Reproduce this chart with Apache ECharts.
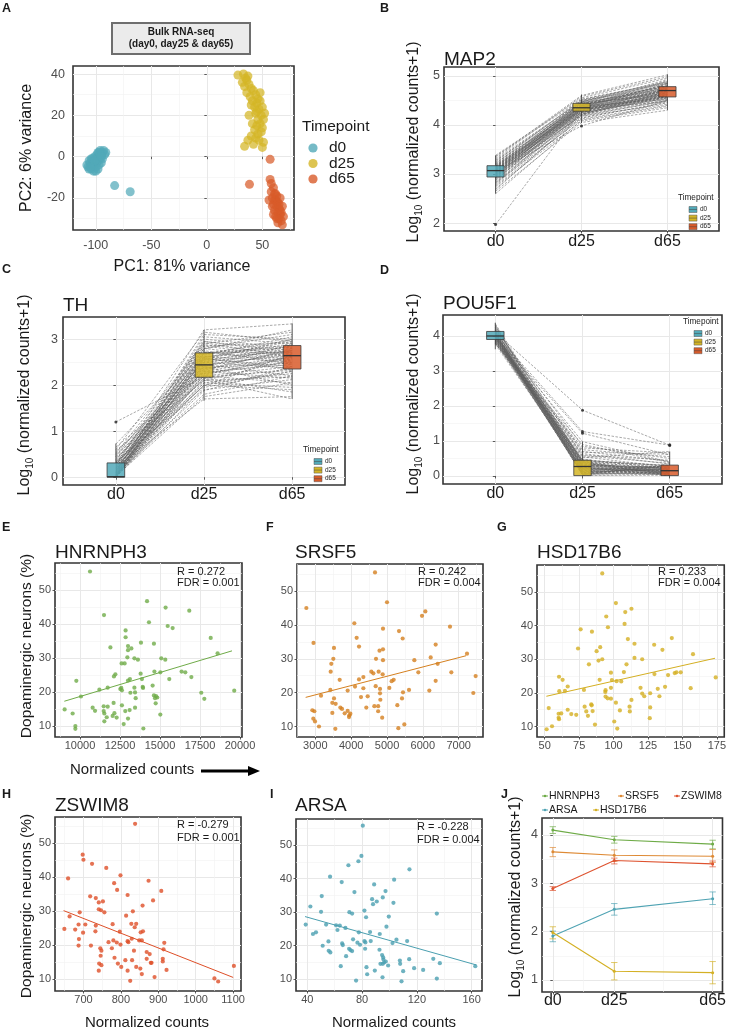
<!DOCTYPE html>
<html><head><meta charset="utf-8">
<script src="https://cdn.jsdelivr.net/npm/echarts@6/dist/echarts.min.js"></script>
<style>html,body{margin:0;padding:0;background:#fff}#c{width:729px;height:1030px}</style>
</head><body><div id="c"></div>
<script>
const FONT = "'Liberation Sans', Arial, Helvetica, sans-serif";
const TIMEPOINTS = ['d0', 'd25', 'd65'];
const TIME_COLORS = ['#52A9B8', '#D4B526', '#D85B2A'];

// ---------- Panel A : PCA ----------
const pcaD0 = [[-108,-4],[-107,-5],[-106,-2],[-106,-6],[-105,-3],[-104,-1],[-104,-6],[-103,-4],[-102,-2],[-102,-7],[-101,0],[-101,-4],[-100,-1],[-100,-5],[-99,1],[-99,-3],[-98,2],[-98,-2],[-97,0],[-97,-4],[-96,3],[-96,-1],[-95,1],[-95,-3],[-94,2],[-94,-1],[-93,3],[-92,1],[-91,2],[-103,-1],[-100,-7],[-98,-6],[-99,-1],[-97,2],[-101,-2],[-96,1],[-105,-5],[-95,0],[-83,-14],[-69,-17]];
const pcaD25 = [[28,39.5],[33,40],[35,38],[37,39],[32,36],[34,34],[38,35],[40,33],[36,31],[42,32],[39,29],[44,30],[46,28],[41,27],[45,26],[48,27],[43,24],[47,23],[50,24],[44,21],[49,20],[52,21],[46,18],[51,18],[38,20],[41,16],[45,15],[48,16],[50,14],[43,13],[46,11],[49,12],[40,10],[44,9],[47,8],[51,7],[37,8],[34,5],[50,4.5],[42,6],[45,22],[40,25],[36,37],[48,31]];
const pcaD65 = [[57,-1.3],[38.4,-13.4],[57,-11],[58,-13],[60,-15],[58,-17],[61,-18],[63,-19],[59,-20],[62,-21],[64,-22],[60,-23],[63,-24],[65,-25],[61,-26],[64,-27],[66,-28],[62,-29],[65,-30],[67,-31],[64,-32],[68,-33],[66,-26],[63,-22],[61,-21],[65,-23],[67,-27],[59,-24],[62,-18],[66,-20],[69,-29],[63,-30],[60,-28],[56,-21],[68,-24]];

// ---------- Panels B-D : per-sample trajectories [d0, d25, d65] ----------
const map2Samples = [[3.38,4.55,4.95],[3.35,4.60,5.02],[3.30,4.48,4.85],[3.27,4.42,4.80],[3.25,4.50,4.78],[3.22,4.38,4.90],[3.20,4.45,4.72],[3.18,4.40,4.76],[3.17,4.35,4.68],[3.16,4.47,4.82],[3.15,4.32,4.70],[3.14,4.43,4.65],[3.13,4.38,4.78],[3.12,4.30,4.60],[3.11,4.41,4.74],[3.10,4.36,4.70],[3.09,4.34,4.66],[3.08,4.45,4.75],[3.08,4.28,4.58],[3.07,4.37,4.72],[3.06,4.33,4.62],[3.05,4.40,4.69],[3.04,4.26,4.55],[3.03,4.35,4.71],[3.02,4.31,4.64],[3.01,4.42,4.80],[3.00,4.29,4.59],[2.99,4.36,4.67],[2.98,4.24,4.52],[2.97,4.33,4.63],[2.96,4.39,4.73],[2.95,4.27,4.57],[2.94,4.20,4.48],[2.92,4.32,4.61],[2.90,4.15,4.45],[2.88,4.30,4.60],[2.85,4.22,4.50],[2.82,4.12,4.40],[2.78,4.25,4.55],[2.74,4.08,4.35],[2.70,4.18,4.42],[2.65,4.05,4.30],[2.60,4.10,4.38],[1.97,4.30,4.58],[3.05,3.98,4.50],
  [3.36,4.52,4.88],[3.32,4.58,4.98],[3.28,4.46,4.92],[3.24,4.36,4.84],[3.21,4.52,4.86],[3.19,4.30,4.66],[3.16,4.28,4.74],[3.14,4.50,4.88],[3.12,4.44,4.62],[3.10,4.25,4.54],[3.09,4.48,4.85],[3.07,4.22,4.64],[3.06,4.46,4.79],[3.04,4.38,4.52],[3.02,4.18,4.50],[3.00,4.44,4.76],[2.98,4.34,4.84],[2.96,4.21,4.68],[2.93,4.40,4.70],[2.91,4.26,4.66],[2.87,4.35,4.56],[2.83,4.20,4.62],[2.80,4.32,4.48],[2.76,4.14,4.46],[2.68,4.22,4.58]];
const map2Box = [[0,2.60,2.94,3.07,3.17,3.38],[1,4.04,4.28,4.35,4.44,4.62],[2,4.30,4.57,4.70,4.78,5.03]];
const map2Out = [[0,1.97],[1,3.98]];

const thSamples = [[0.00,2.20,2.40],[0.00,2.45,2.65],[0.00,2.70,2.85],[0.00,1.95,2.30],[0.00,2.60,2.95],[0.02,2.30,2.15],[0.02,2.85,2.60],[0.03,2.10,2.55],[0.04,2.55,2.75],[0.05,3.00,2.80],[0.05,2.40,2.00],[0.06,1.80,2.20],[0.08,2.65,3.05],[0.08,2.25,2.50],[0.10,2.50,2.70],[0.10,3.10,3.00],[0.12,2.00,1.90],[0.12,2.75,2.45],[0.14,2.35,2.62],[0.15,2.90,3.15],[0.16,2.15,2.35],[0.18,2.60,2.90],[0.20,1.70,1.75],[0.20,2.48,2.80],[0.22,2.80,2.55],[0.24,2.05,2.25],[0.25,3.20,3.33],[0.26,2.42,2.68],[0.28,2.58,2.40],[0.30,2.20,2.05],[0.30,2.95,2.75],[0.32,2.68,2.98],[0.35,1.90,2.12],[0.38,2.52,2.85],[0.40,2.30,2.60],[0.42,2.12,1.70],[0.45,2.88,2.66],[0.50,2.62,2.50],[0.55,2.40,2.88],[0.60,3.15,2.95],[0.65,2.28,2.45],[0.72,2.70,2.72],[1.20,2.18,2.32],
  [0.00,2.35,2.75],[0.00,2.80,3.10],[0.00,2.05,1.95],[0.01,2.58,2.35],[0.02,1.75,2.05],[0.03,2.95,2.70],[0.04,2.22,2.62],[0.06,2.68,2.82],[0.07,1.88,2.40],[0.09,2.45,2.20],[0.11,3.05,2.90],[0.13,2.32,2.78],[0.15,2.72,2.52],[0.17,2.00,2.30],[0.19,2.55,3.00],[0.21,2.85,2.92],[0.23,2.15,1.85],[0.27,2.62,2.72],[0.29,2.38,2.48],[0.33,1.98,2.68],[0.36,2.78,3.20],[0.44,2.50,2.36],[0.48,2.25,2.58],[0.52,2.92,2.62],[0.58,2.10,2.18]];
const thBox = [[0,0.00,0.00,0.01,0.31,0.73],[1,1.66,2.17,2.44,2.70,3.20],[2,1.70,2.35,2.64,2.86,3.34]];
const thOut = [[0,1.20]];

const pou5f1Samples = [[4.35,0.40,0.20],[4.30,0.10,0.05],[4.25,0.30,0.25],[4.20,0.05,0.10],[4.15,0.45,0.30],[4.12,0.20,0.15],[4.10,0.02,0.02],[4.08,0.35,0.18],[4.07,0.15,0.08],[4.06,0.28,0.22],[4.05,0.05,0.30],[4.04,0.40,0.05],[4.03,0.25,0.12],[4.02,0.10,0.25],[4.01,0.32,0.08],[4.00,0.18,0.15],[4.00,0.02,0.05],[3.99,0.45,0.28],[3.98,0.27,0.10],[3.97,0.12,0.20],[3.96,0.38,0.02],[3.95,0.22,0.18],[3.94,0.05,0.12],[3.93,0.30,0.25],[3.92,0.60,0.45],[3.90,0.15,0.06],[3.88,0.42,0.30],[3.86,0.08,0.15],[3.84,0.75,0.55],[3.82,0.33,0.22],[3.80,0.52,0.70],[3.78,0.90,0.38],[3.76,0.20,0.08],[4.10,1.88,0.88],[4.05,1.27,0.88],[3.98,1.22,0.60],[4.02,0.98,0.40],[4.00,0.68,0.62],[3.95,0.55,0.25],[4.18,0.85,0.50],
  [4.32,0.22,0.12],[4.28,0.36,0.05],[4.22,0.12,0.20],[4.16,0.28,0.10],[4.13,0.06,0.28],[4.11,0.42,0.18],[4.09,0.18,0.02],[4.07,0.30,0.14],[4.05,0.08,0.06],[4.03,0.44,0.24],[4.01,0.14,0.30],[3.99,0.24,0.04],[3.97,0.34,0.16],[3.96,0.04,0.22],[3.94,0.40,0.10],[3.92,0.16,0.26],[3.90,0.26,0.02],[3.88,0.10,0.18],[3.85,0.38,0.12],[3.83,0.64,0.34],[3.81,0.20,0.28],[3.79,0.48,0.20],[4.14,0.70,0.42],[4.24,0.58,0.36],[3.87,0.80,0.66]];
const pou5f1Box = [[0,3.62,3.90,4.00,4.13,4.38],[1,0.00,0.01,0.27,0.45,0.98],[2,0.00,0.01,0.15,0.31,0.70]];
const pou5f1Out = [[1,1.88],[1,1.27],[1,1.22],[2,0.89],[2,0.87]];

// ---------- Panels E-I : expression vs dopaminergic neurons (%) ----------
const hnrnph3Pts = [[10625,55.5],[11500,42.7],[14190,46.8],[15350,44.9],[16830,44.0],[14310,40.6],[15480,39.5],[15790,38.9],[12850,38.2],[12850,36.2],[18170,36.0],[13810,34.6],[14620,34.3],[13000,33.6],[11900,33.2],[13210,32.9],[13000,32.4],[18600,31.5],[12960,30.3],[13400,30.0],[13620,29.6],[15080,30.0],[15330,29.6],[12600,28.5],[12790,28.5],[13790,25.5],[12210,25.3],[12120,24.7],[9770,23.4],[14650,26.1],[15020,25.9],[16350,26.1],[16580,25.9],[16960,24.5],[15580,23.9],[13870,23.9],[13000,23.5],[13120,23.9],[10060,18.8],[11210,20.8],[11730,21.4],[12520,21.0],[12620,20.6],[12580,21.3],[13400,21.4],[13920,21.6],[13940,21.3],[14540,22.0],[13150,19.9],[13440,20.0],[13480,18.3],[14620,19.1],[14750,18.9],[14830,18.5],[14690,18.3],[14730,16.8],[17580,19.9],[17770,18.1],[19640,20.5],[9040,15.0],[9540,13.8],[9710,10.1],[9710,9.3],[10790,15.5],[10940,14.6],[11480,15.9],[11480,14.5],[11520,13.8],[11520,11.5],[11730,15.8],[11670,12.7],[12040,13.1],[12150,13.9],[12100,16.9],[12290,12.6],[12620,16.2],[12730,10.7],[12830,14.5],[13000,12.3],[13100,14.8],[13440,15.5],[13960,9.4],[15020,13.5]];
const hnrnph3Fit = [[9020,17.4],[19500,32.2]];
const srsf5Pts = [[2749,45.0],[4665,55.5],[5000,46.7],[4088,40.5],[5977,42.7],[6070,44.0],[6758,39.5],[4888,38.9],[4153,36.2],[5335,38.2],[5437,36.0],[2949,34.7],[4219,33.6],[3520,33.2],[4791,32.4],[4888,32.8],[6358,34.2],[3502,30.0],[4693,30.0],[4888,29.6],[5763,29.6],[6219,30.4],[7233,31.5],[3446,28.5],[6414,28.5],[3428,26.2],[4563,26.2],[4619,25.7],[4767,26.2],[4879,25.4],[5874,26.0],[6795,26.0],[7474,24.9],[3679,23.8],[4219,23.9],[4340,24.6],[5130,23.4],[5186,23.8],[6358,23.5],[3419,20.8],[3902,20.6],[4107,21.8],[4340,21.3],[4684,21.9],[4805,21.1],[5065,21.4],[5614,20.8],[6181,20.6],[7409,19.9],[3158,19.1],[3521,18.3],[4274,18.7],[4460,18.9],[4805,19.8],[4814,17.9],[5447,20.1],[5419,18.3],[3474,17.0],[3567,16.7],[3698,15.6],[3744,15.2],[3819,13.9],[3902,14.6],[3977,13.8],[3940,12.8],[3949,13.3],[4647,16.0],[4753,16.0],[4753,14.5],[4423,15.6],[4865,12.6],[2916,14.8],[2972,14.5],[2944,12.3],[2991,11.5],[3102,10.0],[3558,9.3],[3474,14.0],[5316,9.5],[5484,10.6],[5288,16.3]];
const srsf5Fit = [[2730,18.6],[7205,30.9]];
const hsd17b6Pts = [[91.8,55.5],[101.7,46.7],[113.0,45.0],[108.5,44.0],[94.7,42.7],[108.0,40.5],[76.1,38.9],[95.9,39.5],[84.3,38.2],[110.4,36.0],[142.3,36.3],[115.2,34.6],[129.5,34.3],[74.2,33.2],[90.3,33.6],[135.5,32.8],[87.7,32.4],[157.7,31.5],[89.1,29.6],[91.8,30.0],[115.2,30.4],[120.8,30.0],[82.1,28.5],[109.4,28.5],[60.4,24.8],[63.0,23.9],[66.7,21.9],[60.6,20.5],[64.7,20.6],[78.5,20.9],[89.9,23.9],[98.1,26.0],[98.8,23.8],[102.2,23.5],[105.6,23.4],[107.5,26.2],[129.7,25.6],[139.6,25.3],[144.4,25.9],[145.7,26.1],[148.8,26.1],[174.2,24.6],[94.0,20.3],[94.2,20.8],[98.1,21.5],[119.6,21.5],[120.8,19.8],[122.3,19.0],[132.1,21.2],[137.4,21.8],[156.0,21.4],[94.2,18.9],[95.7,18.4],[98.1,18.3],[101.7,17.1],[113.0,17.9],[126.6,19.9],[133.3,19.0],[52.9,15.5],[60.1,13.8],[62.0,13.9],[60.1,12.6],[60.4,12.2],[66.7,15.0],[69.3,13.7],[72.9,13.5],[79.0,15.9],[80.2,14.5],[81.4,13.2],[83.8,16.6],[84.1,16.3],[84.8,14.6],[86.5,10.6],[104.6,14.8],[111.6,15.9],[111.8,14.5],[126.6,15.7],[126.3,12.5],[100.5,11.5],[102.7,9.4],[51.4,9.2],[55.3,10.1]];
const hsd17b6Fit = [[51.2,19.0],[173.7,30.3]];
const zswim8Pts = [[838,55.8],[698,46.7],[700,45.2],[723,44.0],[761,42.8],[659,39.7],[799,40.6],[874,39.0],[782,38.3],[790,36.3],[908,36.0],[718,34.4],[818,34.8],[733,33.9],[741,32.6],[752,32.9],[886,33.2],[858,31.7],[741,30.6],[747,30.3],[756,29.7],[832,30.0],[690,29.7],[663,28.5],[814,28.7],[778,26.2],[687,26.1],[705,26.1],[828,26.3],[841,26.3],[837,25.3],[733,25.8],[649,24.8],[678,24.6],[732,24.1],[699,23.7],[797,24.0],[859,24.1],[853,23.8],[688,21.8],[829,21.9],[767,20.9],[780,21.4],[789,20.8],[818,21.2],[820,20.9],[849,21.4],[856,21.4],[916,20.7],[687,19.9],[720,19.9],[799,20.2],[745,19.1],[748,18.4],[776,19.1],[835,18.4],[869,18.0],[914,18.8],[746,16.9],[783,16.3],[869,16.0],[877,17.4],[912,16.0],[912,15.2],[812,15.6],[830,15.6],[742,14.6],[748,14.1],[792,14.6],[801,13.6],[841,13.6],[852,13.1],[880,14.8],[882,14.8],[741,12.5],[818,12.5],[856,11.5],[922,12.7],[890,10.6],[825,9.5],[1050,10.2],[1060,9.3],[1102,13.9]];
const zswim8Fit = [[647,30.2],[1100,10.5]];
const arsaPts = [[80.5,55.8],[79.5,46.8],[77.3,45.2],[70.0,44.0],[114.6,42.8],[56.6,40.6],[103.4,39.7],[65.1,39.0],[88.8,38.3],[74.4,36.0],[97.1,36.3],[50.5,34.8],[95.1,34.4],[87.3,33.9],[90.7,33.2],[88.0,32.4],[102.9,32.8],[42.2,31.7],[81.7,30.5],[50.0,30.1],[70.7,30.0],[72.7,29.6],[134.6,29.6],[82.9,28.5],[99.5,28.7],[38.8,26.3],[53.7,26.3],[61.0,26.1],[63.7,26.0],[62.0,24.7],[67.8,25.3],[97.8,25.7],[85.8,24.1],[77.6,24.0],[92.9,23.5],[44.1,23.5],[46.3,24.0],[105.1,21.8],[112.9,21.4],[102.2,20.8],[73.4,21.9],[55.4,21.3],[81.7,21.4],[82.4,21.0],[86.3,21.4],[76.6,20.9],[65.4,20.7],[65.9,20.2],[78.5,20.3],[51.2,20.0],[70.5,19.1],[71.5,18.7],[72.7,18.4],[82.2,19.1],[92.7,18.8],[55.6,18.5],[56.8,18.0],[68.3,16.9],[94.6,17.2],[95.4,16.5],[95.6,15.9],[96.1,15.0],[93.4,14.6],[95.1,14.6],[97.3,15.3],[99.0,14.1],[107.6,15.6],[107.8,14.6],[114.4,16.0],[132.0,16.1],[136.8,14.8],[118.0,13.3],[124.6,12.8],[64.4,13.9],[83.2,13.6],[83.7,11.5],[89.3,12.6],[110.0,12.4],[94.9,10.6],[75.6,9.6],[108.8,9.4],[134.6,10.2],[162.7,13.9]];
const arsaFit = [[38.3,28.7],[163.2,14.3]];

// ---------- Panel J ----------
const jGenes = ['HNRNPH3', 'SRSF5', 'ZSWIM8', 'ARSA', 'HSD17B6'];
const jColors = ['#6EAB47', '#DE8A35', '#DE5330', '#4FA3B3', '#D4B024'];
const jDays = [0, 25, 65];
const jMeans = [[4.10,3.90,3.81],[3.65,3.58,3.56],[2.89,3.47,3.40],[1.91,2.46,2.68],[1.98,1.18,1.15]];
const jLows  = [[4.03,3.83,3.71],[3.55,3.45,3.43],[2.85,3.40,3.34],[1.79,2.34,2.56],[1.85,1.00,0.92]];
const jHighs = [[4.17,3.97,3.89],[3.74,3.69,3.70],[2.93,3.52,3.46],[2.01,2.58,2.82],[2.10,1.36,1.38]];

// ====================== build ======================
const grids = [
  {left:73, top:66, width:221, height:164},
  {left:444, top:67, width:275, height:164},
  {left:63, top:317, width:282, height:168},
  {left:443, top:315, width:279, height:169},
  {left:55, top:563, width:187, height:174},
  {left:297, top:564, width:186, height:173},
  {left:537, top:565, width:188, height:172},
  {left:55, top:817, width:186, height:174},
  {left:296, top:819, width:186, height:172},
  {left:542, top:818, width:185, height:174}
].map(g => Object.assign(g, {show:true, borderColor:'#333', borderWidth:1.6, backgroundColor:'#fff', containLabel:false}));

const xAxes = [], yAxes = [];
function addAxis(list, gi, a, isX) {
  list.push({
    type:'value', gridIndex:gi, min:a.min, max:a.max, position: isX ? 'bottom' : 'left',
    axisLine:{show:false},
    axisTick:{show:true, length:2.5, customValues:a.major, lineStyle:{color:'#333', width:0.8}},
    axisLabel:{customValues:a.major, fontSize:a.fs, color:a.color || '#4D4D4D', margin:a.margin, fontFamily:FONT,
               formatter:a.fmt || (v => String(v)), showMinLabel:true, showMaxLabel:true},
    splitLine:{show:true, lineStyle:{color:'#E8E8E8', width:1}}
  });
  const idx = list.length - 1;
  if (a.minor && a.minor.length) {
    list.push({
      type:'value', gridIndex:gi, min:a.min, max:a.max, position: isX ? 'top' : 'right',
      axisLine:{show:false}, axisTick:{show:false, customValues:a.minor}, axisLabel:{show:false},
      splitLine:{show:true, lineStyle:{color:'#F1F1F1', width:0.6}}
    });
  }
  return idx;
}
const tpFmt = v => TIMEPOINTS[Math.round(v)] || '';
const dayFmt = v => TIMEPOINTS[jDays.indexOf(v)] || '';

const ax = [];
// A
ax.push([addAxis(xAxes,0,{min:-120.5,max:78.5,major:[-100,-50,0,50],minor:[-75,-25,25,75],fs:12.5,margin:9},true),
         addAxis(yAxes,0,{min:-35.5,max:43.9,major:[-20,0,20,40],minor:[-30,-10,10,30],fs:12.5,margin:8},false)]);
// B
ax.push([addAxis(xAxes,1,{min:-0.6,max:2.6,major:[0,1,2],fs:16,color:'#1a1a1a',margin:3,fmt:tpFmt},true),
         addAxis(yAxes,1,{min:1.84,max:5.18,major:[2,3,4,5],minor:[2.5,3.5,4.5],fs:12.5,margin:4},false)]);
// C
ax.push([addAxis(xAxes,2,{min:-0.6,max:2.6,major:[0,1,2],fs:16,color:'#1a1a1a',margin:2,fmt:tpFmt},true),
         addAxis(yAxes,2,{min:-0.17,max:3.48,major:[0,1,2,3],minor:[0.5,1.5,2.5],fs:12.5,margin:5},false)]);
// D
ax.push([addAxis(xAxes,3,{min:-0.6,max:2.6,major:[0,1,2],fs:16,color:'#1a1a1a',margin:2,fmt:tpFmt},true),
         addAxis(yAxes,3,{min:-0.23,max:4.6,major:[0,1,2,3,4],minor:[0.5,1.5,2.5,3.5],fs:12.5,margin:3},false)]);
const yScatter = {min:6.9,max:58.0,major:[10,20,30,40,50],minor:[15,25,35,45,55],fs:11,margin:4};
// E
ax.push([addAxis(xAxes,4,{min:8437,max:20125,major:[10000,12500,15000,17500,20000],minor:[8750,11250,13750,16250,18750],fs:11,margin:3},true),
         addAxis(yAxes,4,yScatter,false)]);
// F
ax.push([addAxis(xAxes,5,{min:2488,max:7679,major:[3000,4000,5000,6000,7000],minor:[2500,3500,4500,5500,6500,7500],fs:11,margin:3},true),
         addAxis(yAxes,5,yScatter,false)]);
// G
ax.push([addAxis(xAxes,6,{min:44.4,max:180.4,major:[50,75,100,125,150,175],minor:[62.5,87.5,112.5,137.5,162.5],fs:11,margin:3},true),
         addAxis(yAxes,6,yScatter,false)]);
const yScatter2 = {min:6.5,max:57.8,major:[10,20,30,40,50],minor:[15,25,35,45,55],fs:11,margin:4};
// H
ax.push([addAxis(xAxes,7,{min:624,max:1121,major:[700,800,900,1000,1100],minor:[650,750,850,950,1050],fs:11,margin:3},true),
         addAxis(yAxes,7,yScatter2,false)]);
// I
ax.push([addAxis(xAxes,8,{min:31.7,max:167.6,major:[40,80,120,160],minor:[60,100,140],fs:11,margin:3},true),
         addAxis(yAxes,8,yScatter2,false)]);
// J
ax.push([addAxis(xAxes,9,{min:-4.4,max:69,major:[0,25,65],minor:[12.5,45],fs:16,color:'#1a1a1a',margin:1,fmt:dayFmt},true),
         addAxis(yAxes,9,{min:0.75,max:4.35,major:[1,2,3,4],minor:[1.5,2.5,3.5],fs:12.5,margin:4},false)]);

const series = [];
function on(p) { return {xAxisIndex: ax[p][0], yAxisIndex: ax[p][1]}; }

// A scatter
[pcaD0, pcaD25, pcaD65].forEach((pts, k) => {
  series.push(Object.assign({type:'scatter', data:pts, symbolSize:9,
    itemStyle:{color:TIME_COLORS[k], opacity:0.72}, z:3}, on(0)));
});

// B-D
function boxRender(params, api) {
  const x = api.value(0);
  const pMin = api.coord([x, api.value(1)]), pQ1 = api.coord([x, api.value(2)]);
  const pMd = api.coord([x, api.value(3)]), pQ3 = api.coord([x, api.value(4)]), pMax = api.coord([x, api.value(5)]);
  const hw = api.size([0.1, 0])[0];
  const c = TIME_COLORS[Math.round(x)];
  const st = {stroke:'#333', lineWidth:0.8};
  return {type:'group', children:[
    {type:'line', shape:{x1:pMin[0], y1:pMin[1], x2:pQ1[0], y2:pQ1[1]}, style:st},
    {type:'line', shape:{x1:pQ3[0], y1:pQ3[1], x2:pMax[0], y2:pMax[1]}, style:st},
    {type:'rect', shape:{x:pQ1[0]-hw, y:pQ3[1], width:2*hw, height:Math.max(pQ1[1]-pQ3[1], 0.8)},
     style:{fill:c, fillOpacity:0.85, stroke:'#3a3a3a', lineWidth:0.8}},
    {type:'line', shape:{x1:pMd[0]-hw, y1:pMd[1], x2:pMd[0]+hw, y2:pMd[1]}, style:{stroke:'#333', lineWidth:1.3}}
  ]};
}
[[map2Samples, map2Box, map2Out], [thSamples, thBox, thOut], [pou5f1Samples, pou5f1Box, pou5f1Out]].forEach((set, k) => {
  const p = k + 1;
  series.push(Object.assign({type:'lines', coordinateSystem:'cartesian2d', polyline:true,
    data: set[0].map(s => ({coords: s.map((v, i) => [i, v])})),
    lineStyle:{color:'#5e5e5e', width:0.6, type:[2.5,1.5], opacity:0.9}, z:2, silent:true}, on(p)));
  series.push(Object.assign({type:'custom', renderItem:boxRender, data:set[1],
    encode:{x:0, y:[1,2,3,4,5]}, z:4}, on(p)));
  series.push(Object.assign({type:'scatter', data:set[2], symbolSize:3,
    itemStyle:{color:'#222'}, z:5}, on(p)));
});

// E-I
const scatterSets = [[hnrnph3Pts, hnrnph3Fit, '#6FAB48'], [srsf5Pts, srsf5Fit, '#D5801F'], [hsd17b6Pts, hsd17b6Fit, '#D4AF22'],
                     [zswim8Pts, zswim8Fit, '#DE4F28'], [arsaPts, arsaFit, '#4A9FB0']];
scatterSets.forEach((set, k) => {
  const p = k + 4;
  series.push(Object.assign({type:'scatter', data:set[0], symbolSize:4.2, itemStyle:{color:set[2]}, z:3}, on(p)));
  series.push(Object.assign({type:'line', data:set[1], symbol:'none', lineStyle:{color:set[2], width:1}, z:4}, on(p)));
});

// J
function errRender(color) {
  return function (params, api) {
    const x = api.value(0);
    const a = api.coord([x, api.value(1)]), b = api.coord([x, api.value(2)]);
    const w = 3.2, st = {stroke:color, lineWidth:0.8, opacity:0.85};
    return {type:'group', children:[
      {type:'line', shape:{x1:a[0], y1:a[1], x2:b[0], y2:b[1]}, style:st},
      {type:'line', shape:{x1:a[0]-w, y1:a[1], x2:a[0]+w, y2:a[1]}, style:st},
      {type:'line', shape:{x1:b[0]-w, y1:b[1], x2:b[0]+w, y2:b[1]}, style:st}
    ]};
  };
}
jGenes.forEach((g, k) => {
  series.push(Object.assign({type:'custom', renderItem:errRender(jColors[k]),
    data: jDays.map((d, i) => [d, jLows[k][i], jHighs[k][i]]), encode:{x:0, y:[1,2]}, z:3}, on(9)));
  series.push(Object.assign({type:'line', name:g, data: jDays.map((d, i) => [d, jMeans[k][i]]),
    symbol:'circle', symbolSize:3, lineStyle:{color:jColors[k], width:1.1}, itemStyle:{color:jColors[k]}, z:4}, on(9)));
});

// ---------- text / annotations ----------
const G = [];
function T(x, y, text, size, opts) {
  opts = opts || {};
  G.push({type:'text', x, y, rotation: opts.rot || 0, z:100,
    style: Object.assign({text, fill: opts.fill || '#1a1a1a',
      font: (opts.bold ? 'bold ' : '') + size + 'px ' + FONT,
      textAlign: opts.align || 'left', textVerticalAlign: 'middle'}, opts.style || {})});
}
// panel letters
[['A',2,8.5],['B',380,8.5],['C',2,270],['D',380,271],['E',2,528],['F',266,528],['G',497,528],['H',2,795],['I',270,795],['J',501,795]]
  .forEach(l => T(l[1], l[2], l[0], 12.5, {bold:true}));

// Panel A box title + labels + legend
G.push({type:'rect', z:99, shape:{x:112, y:23, width:138, height:31}, style:{fill:'#EBEBEB', stroke:'#6E6E6E', lineWidth:2}});
T(181, 32.5, 'Bulk RNA-seq', 10, {bold:true, align:'center'});
T(181, 44.5, '(day0, day25 & day65)', 10, {bold:true, align:'center'});
T(27, 148, 'PC2: 6% variance', 16, {rot:Math.PI/2, align:'center'});
T(182, 267, 'PC1: 81% variance', 16, {align:'center'});
T(302, 127, 'Timepoint', 15.5);
TIMEPOINTS.forEach((t, i) => {
  G.push({type:'circle', z:100, shape:{cx:313, cy:148 + i*15.5, r:4.6}, style:{fill:TIME_COLORS[i], opacity:0.8}});
  T(329, 148 + i*15.5, t, 15.5);
});

// Log10 axis labels
function logLabel(x, y) {
  G.push({type:'text', x, y, rotation:Math.PI/2, z:100, style:{
    text:'{a|Log}{s|10}{a| (normalized counts+1)}', textAlign:'center', textVerticalAlign:'middle',
    rich:{a:{fontSize:16, fontFamily:FONT, fill:'#1a1a1a', lineHeight:20},
          s:{fontSize:10, fontFamily:FONT, fill:'#1a1a1a', verticalAlign:'bottom', lineHeight:11}}}});
}
logLabel(414, 142); logLabel(25, 395); logLabel(414, 394); logLabel(516, 897);

// gene titles
T(444, 60, 'MAP2', 19); T(63, 305.5, 'TH', 19); T(443, 303.5, 'POU5F1', 19);
T(55, 553, 'HNRNPH3', 19); T(295, 553, 'SRSF5', 19); T(537, 553, 'HSD17B6', 19);
T(55, 805.5, 'ZSWIM8', 19); T(295, 806, 'ARSA', 19);

// Timepoint mini legends
function miniLegend(x, y) {
  T(x, y, 'Timepoint', 8.2, {fill:'#222'});
  TIMEPOINTS.forEach((t, i) => {
    const cy = y + 11.5 + i * 8.6;
    G.push({type:'rect', z:100, shape:{x:x + 11, y:cy - 3, width:8, height:6}, style:{fill:TIME_COLORS[i], stroke:'#555', lineWidth:0.5}});
    G.push({type:'line', z:101, shape:{x1:x + 11, y1:cy, x2:x + 19, y2:cy}, style:{stroke:'#444', lineWidth:0.5}});
    T(x + 22, cy, t, 6.5, {fill:'#222'});
  });
}
miniLegend(678, 198); miniLegend(303, 450); miniLegend(683, 322);

// stats
[[177,572,583,'0.272','0.001'],[418,572,583,'0.242','0.004'],[658,572,583,'0.233','0.004'],
 [177,825,838,'-0.279','0.001'],[417,827,840,'-0.228','0.004']].forEach(s => {
  T(s[0], s[1], 'R = ' + s[3], 11); T(s[0], s[2], 'FDR = ' + s[4], 11);
});

// scatter y labels
T(27, 646, 'Dopaminergic neurons (%)', 15.5, {rot:Math.PI/2, align:'center'});
T(27, 906, 'Dopaminergic neurons (%)', 15.5, {rot:Math.PI/2, align:'center'});
// x labels
T(70, 770, 'Normalized counts', 15);
G.push({type:'line', z:100, shape:{x1:201, y1:771, x2:251, y2:771}, style:{stroke:'#000', lineWidth:2.8}});
G.push({type:'polygon', z:100, shape:{points:[[248,766],[260,771],[248,776]]}, style:{fill:'#000'}});
T(147, 1023, 'Normalized counts', 15, {align:'center'});
T(394, 1023, 'Normalized counts', 15, {align:'center'});

// J legend
[[0,542,796],[1,618,796],[2,674,796],[3,542,810],[4,593,810]].forEach(l => {
  const c = jColors[l[0]];
  G.push({type:'line', z:100, shape:{x1:l[1], y1:l[2], x2:l[1] + 6, y2:l[2]}, style:{stroke:c, lineWidth:1}});
  G.push({type:'circle', z:100, shape:{cx:l[1] + 3, cy:l[2], r:1.3}, style:{fill:c}});
  T(l[1] + 7, l[2], jGenes[l[0]], 10.5);
});

const chart = echarts.init(document.getElementById('c'), null, {renderer:'canvas'});
chart.setOption({
  animation:false, backgroundColor:'#fff',
  textStyle:{fontFamily:FONT},
  grid:grids, xAxis:xAxes, yAxis:yAxes, series, graphic:{elements:G}
});
</script></body></html>
